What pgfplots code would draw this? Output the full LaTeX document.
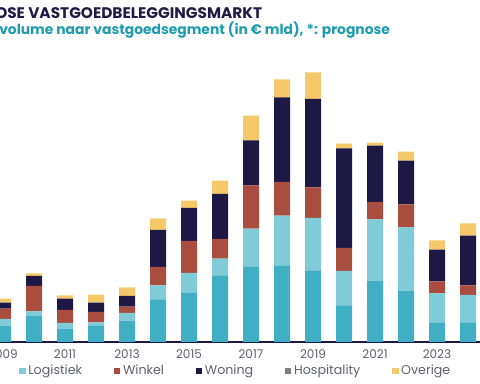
\documentclass[border=0pt]{standalone}
\usepackage{pgfplots}
\pgfplotsset{compat=1.18}
\usepackage{pgfplotstable}
\usepackage{fontspec}
\setmainfont{Poppins}
\definecolor{cKan}{HTML}{40AFC4}
\definecolor{cLog}{HTML}{80CBD8}
\definecolor{cWin}{HTML}{A94E3F}
\definecolor{cWon}{HTML}{1E1845}
\definecolor{cHos}{HTML}{7F7F7F}
\definecolor{cOve}{HTML}{F5C96A}
\definecolor{cTitle}{HTML}{1F1B46}
\definecolor{cSub}{HTML}{1E9CAD}
\definecolor{cTxt}{HTML}{5F5F6F}
\pgfplotstableread{
year kan log win won ove
2009 1.63 0.67 1.03 0.60 0.40
2010 2.60 0.47 2.53 1.00 0.27
2011 1.33 0.57 1.30 1.13 0.34
2012 1.60 0.37 1.03 0.93 0.80
2013 2.13 0.77 0.63 1.07 0.87
2014 4.27 1.40 1.83 3.70 1.17
2015 4.90 2.00 3.20 3.30 0.73
2016 6.67 1.66 1.97 4.50 1.33
2017 7.50 3.84 4.33 4.50 2.47
2018 7.60 5.04 3.36 8.47 1.80
2019 7.10 5.30 3.07 8.83 2.67
2020 3.67 3.43 2.30 9.97 0.47
2021 6.14 6.13 1.73 5.64 0.30
2022 5.14 6.33 2.30 4.37 0.90
2023 1.90 2.97 1.20 3.17 0.93
2024 1.97 2.73 0.97 4.97 1.23
}\datatable
\begin{document}
\begin{tikzpicture}[x=0.75pt,y=0.75pt]
\path[use as bounding box] (0,0) rectangle (480,384);
\clip (0,0) rectangle (480,384);
\node[anchor=base west, inner sep=0pt, text=cTitle, font=\fontsize{11.5pt}{13pt}\selectfont\bfseries] at (-5,365) {OSE VASTGOEDBELEGGINGSMARKT};
\node[anchor=base west, inner sep=0pt, text=cSub, font=\fontsize{10.4pt}{12pt}\selectfont\bfseries] at (-1,349) {volume naar vastgoedsegment (in € mld), *: prognose};
\begin{axis}[
  at={(0,42)}, anchor=south west,
  scale only axis, width=360pt, height=256.5pt,
  xmin=2008.903, xmax=2024.387, ymin=0, ymax=34.2,
  axis x line=bottom, axis y line=none,
  x axis line style={draw=cWon, line width=1.1pt, -},
  ybar stacked, bar width=12pt,
  xtick={2009,2011,2013,2015,2017,2019,2021,2023},
  xticklabels={2009,2011,2013,2015,2017,2019,2021,2023},
  major tick length=0pt,
  xticklabel style={font=\fontsize{9pt}{10pt}\selectfont, text=cTxt, yshift=-2.5pt},
  legend columns=5,
  legend style={draw=none, fill=none, inner sep=0pt, at={(axis description cs:0.04,-0.085)}, anchor=west,
    font=\fontsize{9.5pt}{10pt}\selectfont, text=cTxt,
    /tikz/every even column/.append style={column sep=22pt}},
  legend image code/.code={\fill[#1] (0pt,-2.3pt) rectangle (4.6pt,2.3pt);},
]
\addplot[fill=cKan, draw=none, forget plot] table[x=year, y=kan] {\datatable};
\addplot[fill=cLog, draw=none] table[x=year, y=log] {\datatable};
\addlegendentry{Logistiek}
\addplot[fill=cWin, draw=none] table[x=year, y=win] {\datatable};
\addlegendentry{Winkel}
\addplot[fill=cWon, draw=none] table[x=year, y=won] {\datatable};
\addlegendentry{Woning}
\addlegendimage{fill=cHos, draw=none}
\addlegendentry{Hospitality}
\addplot[fill=cOve, draw=none] table[x=year, y=ove] {\datatable};
\addlegendentry{Overige}
\end{axis}
\end{tikzpicture}
\end{document}
